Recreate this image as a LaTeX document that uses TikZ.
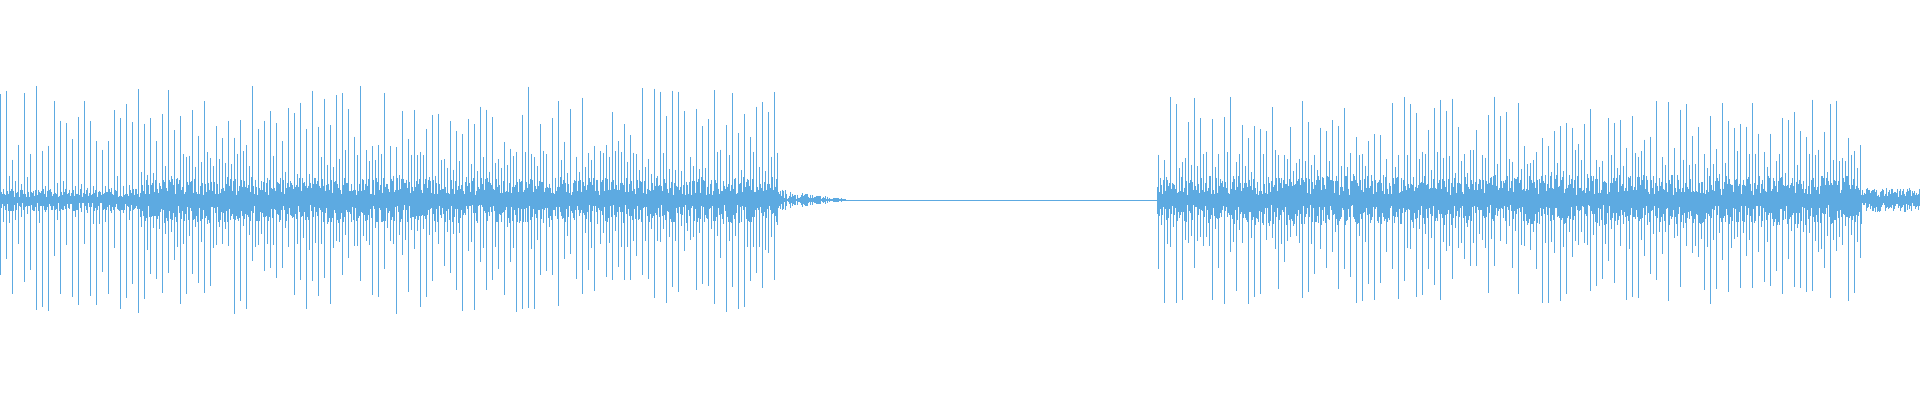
\documentclass[tikz,border=0pt]{standalone}
\definecolor{wave}{RGB}{93,170,225}
\begin{document}
\begin{tikzpicture}[x=1pt,y=1pt,wv/.style={draw=wave,line width=0.55pt}]
\useasboundingbox (0,0) rectangle (1920,400);
\pgfmathsetseed{7}
% first active part
\foreach \x in {0,...,777}{
  \pgfmathsetmacro\e{ifthenelse(\x<140,0.5,1)}
  \pgfmathsetmacro\a{ifthenelse(mod(\x,6)==0,40+75*rnd,ifthenelse(mod(\x,3)==0,(15+35*rnd)*\e,(5+18*rnd)*\e))}
  \pgfmathsetmacro\b{ifthenelse(mod(\x,6)==0,40+75*rnd,ifthenelse(mod(\x,3)==0,(15+35*rnd)*\e,(5+18*rnd)*\e))}
  \draw[wv] (\x,200+\a) -- (\x,200-\b);
}
% tail
\foreach \x in {778,...,845}{
  \pgfmathsetmacro\a{1+10*(845-\x)/67*rnd}
  \draw[wv] (\x,200+\a) -- (\x,200-\a);
}
% flat
\draw[draw=wave,line width=0.35pt] (845,200) -- (1157,200);
% second active part
\foreach \x in {1157,...,1861}{
  \pgfmathsetmacro\a{ifthenelse(mod(\x,6)==0,35+70*rnd,ifthenelse(mod(\x,3)==0,15+35*rnd,5+20*rnd))}
  \pgfmathsetmacro\b{ifthenelse(mod(\x,6)==0,35+70*rnd,ifthenelse(mod(\x,3)==0,15+35*rnd,5+20*rnd))}
  \draw[wv] (\x,200+\a) -- (\x,200-\b);
}
% trailing noise
\foreach \x in {1862,...,1919}{
  \pgfmathsetmacro\a{3+9*rnd}
  \pgfmathsetmacro\b{3+9*rnd}
  \draw[wv] (\x,200+\a) -- (\x,200-\b);
}
\end{tikzpicture}
\end{document}
